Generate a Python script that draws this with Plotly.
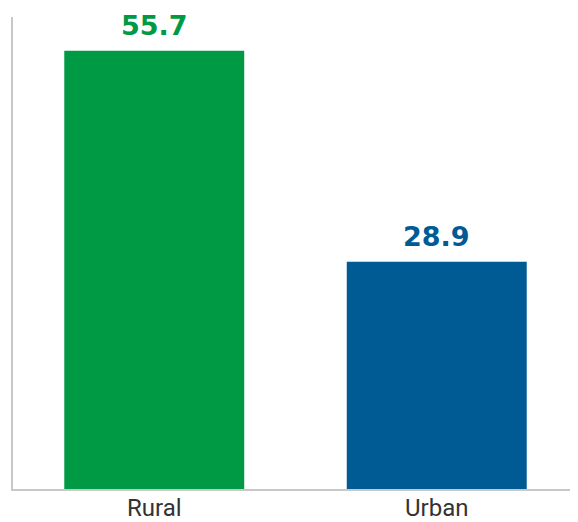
import plotly.graph_objects as go

categories = ["Rural", "Urban"]
values = [55.7, 28.9]
value_labels = ["55.7", "28.9"]
colors = ["#009a44", "#005b94"]

fig = go.Figure()
fig.add_trace(go.Bar(
    x=categories, y=values,
    marker=dict(color=colors, line=dict(width=0)),
    hoverinfo="skip",
))
for c, v, t, col in zip(categories, values, value_labels, colors):
    fig.add_annotation(x=c, y=v, text=f"<b>{t}</b>", showarrow=False,
                       yanchor="bottom", yshift=8,
                       font=dict(family="DejaVu Sans", size=27, color=col))

fig.update_layout(
    width=570, height=514,
    margin=dict(l=5, r=0, t=9, b=27),
    paper_bgcolor="white", plot_bgcolor="white",
    bargap=0.363,
    showlegend=False,
    xaxis=dict(showline=True, linecolor="#c8c8c8", linewidth=1.5,
               ticks="", showgrid=False, ticklabelstandoff=-4,
               tickfont=dict(family="Roboto", size=24, color="#333333")),
    yaxis=dict(range=[0, 60], showline=True, linecolor="#c8c8c8", linewidth=1.5,
               showticklabels=False, ticks="", showgrid=False, zeroline=False),
)
fig.write_html("out.html")
